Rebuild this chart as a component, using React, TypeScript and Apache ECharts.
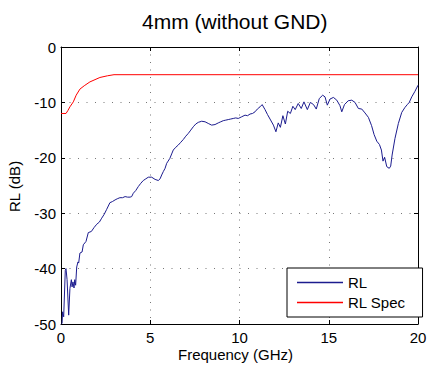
import React, { useEffect, useRef } from "react";
import * as echarts from "echarts";

const rlFreq = [0.02, 0.06, 0.09, 0.15, 0.24, 0.28, 0.34, 0.43, 0.5, 0.58, 0.62, 0.67, 0.73, 0.77, 0.82, 0.88, 0.95, 0.99, 1.06, 1.18, 1.25, 1.4, 1.53, 1.7, 1.85, 2.0, 2.15, 2.28, 2.42, 2.56, 2.74, 2.88, 3.03, 3.15, 3.3, 3.45, 3.59, 3.73, 3.87, 3.96, 4.05, 4.19, 4.33, 4.47, 4.61, 4.75, 4.89, 5.08, 5.27, 5.45, 5.55, 5.64, 5.73, 5.83, 5.92, 6.0, 6.1, 6.2, 6.29, 6.43, 6.57, 6.71, 6.85, 6.99, 7.13, 7.27, 7.41, 7.55, 7.69, 7.88, 8.07, 8.25, 8.44, 8.63, 8.81, 8.95, 9.09, 9.23, 9.37, 9.51, 9.65, 9.79, 9.93, 10.12, 10.31, 10.45, 10.59, 10.73, 10.87, 11.0, 11.15, 11.27, 11.43, 11.57, 11.71, 11.9, 12.04, 12.17, 12.29, 12.43, 12.57, 12.7, 12.85, 12.99, 13.12, 13.29, 13.46, 13.61, 13.8, 13.97, 14.15, 14.3, 14.47, 14.66, 14.79, 14.92, 15.07, 15.26, 15.45, 15.63, 15.73, 15.88, 16.09, 16.29, 16.47, 16.66, 16.85, 17.03, 17.22, 17.4, 17.54, 17.69, 17.84, 17.95, 18.04, 18.13, 18.25, 18.39, 18.47, 18.55, 18.71, 18.9, 19.09, 19.27, 19.4, 19.51, 19.65, 19.83, 20.0];
const rlValue = [-50, -49.9, -47.8, -48.7, -40.3, -40, -42, -48.4, -43.6, -42, -43.3, -42.4, -43.5, -42, -43, -39.7, -38.8, -39, -37.2, -37, -35.7, -35.1, -33.5, -33.3, -32.6, -32, -31.6, -30.9, -30.2, -29.3, -28.1, -27.9, -27.6, -27.4, -27.2, -27.2, -27, -27.1, -27.1, -27.0, -26.4, -25.9, -25.2, -24.6, -24.1, -23.8, -23.5, -23.5, -23.9, -24.1, -23.8, -23.1, -22.5, -21.9, -21, -20.6, -20.1, -19.3, -18.6, -18.1, -17.7, -17.2, -16.7, -16.1, -15.6, -15.0, -14.4, -13.9, -13.6, -13.4, -13.5, -13.8, -14.1, -14, -13.7, -13.5, -13.3, -13.2, -13.1, -13.0, -12.9, -12.8, -12.9, -12.6, -12.3, -12.4, -12.1, -12.0, -11.7, -11.2, -10.8, -10.4, -11.3, -12.2, -13.0, -14.1, -15.3, -13.7, -14.5, -12.4, -13.9, -11.6, -12.0, -10.7, -11.3, -10.2, -11.1, -9.9, -11.3, -10.0, -10.4, -11.2, -9.3, -8.7, -9.0, -10.5, -9.4, -9.1, -9.6, -10.6, -11.7, -10.4, -9.7, -9.6, -10, -11.1, -11.2, -11.9, -12.7, -14.2, -15.8, -17.0, -17.6, -18.6, -20.6, -19.9, -21.6, -21.9, -21.5, -19.5, -16.5, -13.8, -11.8, -10.9, -10.4, -10.0, -9.0, -8.0, -6.9];

const specFreq = [0, 0.28, 0.38, 0.5, 0.69, 0.85, 1.06, 1.3, 1.62, 2.18, 2.6, 2.97, 20];
const specValue = [-12, -12, -11.5, -10.8, -9.9, -8.7, -7.6, -7.0, -6.3, -5.5, -5.2, -5, -5];

const xTicks = [0, 5, 10, 15, 20];
const yTicks = [-50, -40, -30, -20, -10, 0];

const FONT = "'Liberation Sans', Arial, Helvetica, sans-serif";

export default function App() {
  const ref = useRef<HTMLDivElement>(null);
  useEffect(() => {
    if (!ref.current) return;
    const chart = echarts.init(ref.current, null, { renderer: "svg" });
    const rlData = rlFreq.map((f, i) => [f, rlValue[i]]);
    const specData = specFreq.map((f, i) => [f, specValue[i]]);
    const xStep = xTicks[1] - xTicks[0];
    const yStep = yTicks[1] - yTicks[0];
    const baseX = {
      type: "value",
      min: xTicks[0],
      max: xTicks[xTicks.length - 1],
      interval: xStep,
      axisLine: { show: true, onZero: false, lineStyle: { color: "#000", width: 1 } },
      axisTick: { show: true, inside: true, length: 4, lineStyle: { color: "#000" } },
      splitLine: { show: false },
    };
    const baseY = {
      type: "value",
      min: yTicks[0],
      max: yTicks[yTicks.length - 1],
      interval: yStep,
      axisLine: { show: true, onZero: false, lineStyle: { color: "#000", width: 1 } },
      axisTick: { show: true, inside: true, length: 4, lineStyle: { color: "#000" } },
      splitLine: { show: false },
    };
    chart.setOption({
      animation: false,
      backgroundColor: "#fff",
      textStyle: { fontFamily: FONT },
      grid: { left: 61, right: 15, top: 47, bottom: 45, containLabel: false },
      title: {
        text: "4mm (without GND)",
        left: 137,
        top: 6,
        textStyle: { fontFamily: FONT, fontSize: 21, fontWeight: "normal", color: "#000" },
      },
      xAxis: [
        {
          ...baseX,
          position: "bottom",
          axisLabel: { show: true, color: "#000", fontSize: 15, fontFamily: FONT, margin: 6 },
          splitLine: { show: true, lineStyle: { color: "#777", type: [1, 6.5], width: 1 } },
        },
        { ...baseX, position: "top", axisLabel: { show: false } },
      ],
      yAxis: [
        {
          ...baseY,
          position: "left",
          axisLabel: { show: true, color: "#000", fontSize: 15, fontFamily: FONT, margin: 5 },
          splitLine: { show: true, lineStyle: { color: "#777", type: [1, 7.5], width: 1 } },
        },
        { ...baseY, position: "right", axisLabel: { show: false } },
      ],
      legend: {
        left: 287,
        top: 268,
        orient: "vertical",
        align: "left",
        backgroundColor: "#fff",
        borderColor: "#000",
        borderWidth: 1,
        borderRadius: 0,
        padding: [7, 17, 7, 10],
        itemGap: 5,
        itemWidth: 46,
        itemHeight: 1.5,
        icon: "rect",
        textStyle: { fontFamily: FONT, fontSize: 15, color: "#000" },
        data: ["RL", "RL Spec"],
      },
      graphic: [
        {
          type: "text",
          left: 178,
          top: 347,
          style: { text: "Frequency (GHz)", font: `15px ${FONT}`, fill: "#000" },
        },
        {
          type: "text",
          x: 7,
          y: 212,
          rotation: Math.PI / 2,
          style: { text: "RL (dB)", font: `15px ${FONT}`, fill: "#000" },
        },
      ],
      series: [
        {
          name: "RL",
          type: "line",
          data: rlData,
          symbol: "none",
          lineStyle: { color: "#1c1c8e", width: 1 },
          itemStyle: { color: "#1c1c8e" },
          z: 3,
        },
        {
          name: "RL Spec",
          type: "line",
          data: specData,
          symbol: "none",
          smooth: false,
          lineStyle: { color: "#ff0000", width: 1 },
          itemStyle: { color: "#ff0000" },
          z: 4,
        },
      ],
    });
    return () => chart.dispose();
  }, []);
  return (
    <div
      ref={ref}
      style={{ position: "fixed", left: 0, top: 0, width: 433, height: 369 }}
    />
  );
}
